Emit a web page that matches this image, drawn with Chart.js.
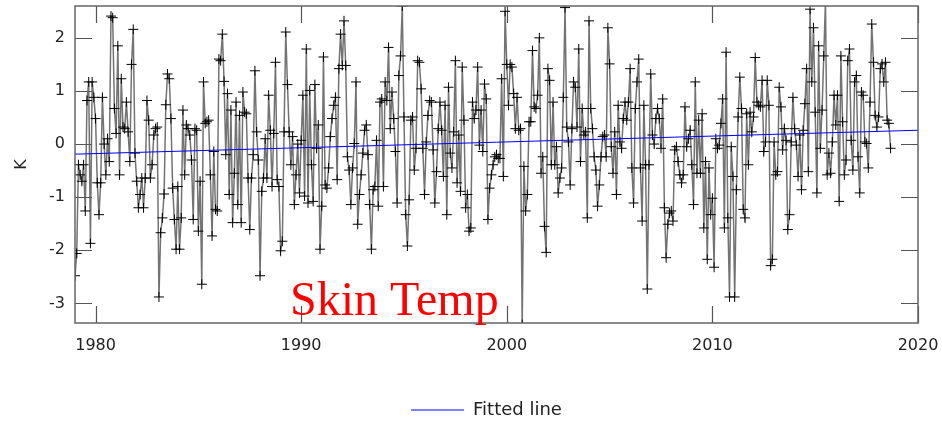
<!DOCTYPE html>
<html>
<head>
<meta charset="utf-8">
<script src="https://cdn.jsdelivr.net/npm/chart.js@4/dist/chart.umd.min.js"></script>
<style>
  html, body { margin: 0; padding: 0; background: #fff; }
  #wrap { width: 942px; height: 426px; }
</style>
</head>
<body>
<div id="wrap"><canvas id="chart" width="942" height="426"></canvas></div>
<script>
// monthly skin temperature anomaly (K), starting January 1979
const startYear = 1979;
const skinTemp = [
  -2.48, -2.06, -0.39, -0.58, -0.7, -0.39, -1.26, 0.82, 1.17, -1.87, 1.17, 0.88, 0.48, -0.73, -1.33, -0.73, 0.88, 0, -0.58, 0.1, -0.33, 2.41, 2.38, 0.67, 0.2, 1.85, -0.58, 1.23, 0.32, 0.29, 0.79, 0.23, -0.33, 1.5, 2.16, -0.17, -0.7, -1.2, -0.95, -0.64, -1.2, -0.64, 0.82, 0.45, -0.64, -0.39, 0.17, 0.29, 0.32,
  -2.88, -1.67, -1.39, -0.94, 0.74, 1.32, 1.23, 0.48, -0.83, -1.42, -1.98, -0.8, -1.98, -1.39, 0.64, -0.58, 0.36, 0.29, 0.17, -0.3, -1.42, 0.29, 0.26, -1.64, -0.7, -2.64, 1.17, 0.39, 0.42, 0.45, -0.58, -1.73, -0.14, -1.23, -1.26, 1.6, 1.57, 2.07, 1.18, -0.2, 0.95, -0.95, 0.64, -1.48, -0.55, 0.79, -1.14, 0.54, -1.48, 0.98,
  0.6, 0.57, -0.64, -1.61, -0.64, -0.2, 1.38, 0.23, -0.3, -2.48, -0.89, -0.64, 0.1, -0.64, 0.92, 0.26, -0.8, 0.2, 1.54, -0.67, -0.8, -2.01, -1.83, 0.23, 2.11, 1.12, 0.23, -0.39, 0.14, -1.14, -0.58, 0.0, -0.92, 0.07, 0.92, -0.98, 1.79, -1.11, 1.01, -0.39, -1.08, 1.12, -0.08, 0.36, -1.98, -1.17, 1.64, -0.77, -0.83,
  -0.45, 0.14, 0.48, 0.73, 0.88, -0.67, 1.42, 2.07, 1.48, 2.32, 1.48, -0.24, -0.49, -1.14, -0.45, 0.01, 1.17, -1.51, -0.95, -0.58, -0.17, 0.26, 0.36, -0.2, -1.14, -1.98, -0.86, -0.8, 0.07, -1.17, 0.79, 0.85, -0.8, 1.17, 0.82, 1.82, 0.29, 0.98, 0.48, -0.14, -1.11, 1.29, 1.66, 2.6, 0.51, -1.33, -1.92, -1.05, 0.45,
  0.51, -0.49, -0.08, 1.57, 1.54, 1.04, -0.08, -0.95, 0.04, 0.54, 0.82, 0.79, -0.11, -1.11, -0.52, 0.29, 0.79, 0.26, -0.61, 0.73, -1.33, 1.07, -0.17, -0.45, 0.23, 1.57, -0.73, 0.17, -0.89, 1.45, 0.45, -1.2, -0.95, -1.64, -1.58, 0.79, 0.48, 0.64, 1.45, -0.02, 0.64, -0.14, 1.13, 0.85, -1.42, -0.83, -0.58, -0.39, -0.24,
  -0.2, -0.27, -0.27, 1.23, -0.61, 2.5, 1.5, 0.73, 1.5, 1.45, 0.95, 0.29, 0.88, 0.26, 0.29, -3.4, -0.42, -1.26, -0.95, 0.42, 0.42, 1.76, 0.7, 0.67, 0.92, 2.0, -0.55, -0.24, -1.55, -2.04, 1.42, 1.2, -0.39, 0.79, -0.39, -0.05, -0.92, -0.64, -0.45, 0.88, 2.57, 0.32, 0.04, -0.77, 0.29, 1.17, 1.07, 0.32, 1.79, -0.33,
  0.67, 0.17, 0.23, -1.39, 2.32, 0.67, 0.29, -0.24, -0.49, -1.17, -0.77, -0.24, 0.14, 0.17, -0.24, 2.19, 1.51, -0.05, -0.55, 0.23, -0.95, 0.73, 0.04, -0.08, 0.48, 0.79, 0.45, 0.79, 1.42, -0.45, -1.11, 0.67, 1.17, 1.6, -0.45, -1.45, 0.73, -0.39, -2.73, -0.39, 1.32, 0.17, 0.0, 0.48, 0.67, 0.48, -0.08, 0.85, -1.2,
  -2.14, -1.51, -1.3, -1.26, -1.45, -0.11, -0.05, -0.33, -0.58, -0.73, -0.58, 0.7, -0.05, 0.1, 0.26, -0.39, -1.14, 1.17, -0.55, 0.45, -0.55, 0.57, -1.58, -0.33, -2.17, -0.45, -1.33, -1.02, -2.32, 0.1, -0.08, -0.02, 0.39, 0.85, -1.58, 1.73, -1.39, -2.88, -0.05, -0.61, -2.88, -0.86, 0.51, 1.26, 0.67, -1.23, -1.39, 0.57, -0.39,
  0.6, 0.23, 0.51, 1.63, 0.79, 0.73, 0.7, 1.2, -0.14, 0.04, 1.2, 0.73, -2.29, -2.17, 0.04, -0.58, -0.52, 1.07, 0.7, -0.11, 0.29, 0.07, -1.61, -1.33, 0.04, 0.88, 0.29, -0.02, -0.61, 0.17, -0.86, 0.26, 0.76, 1.42, -0.52, 2.54, 1.17, 2.19, 0.6, -0.92, 1.85, -0.08, 0.64, 1.66, 2.7, -0.58, -0.17, -0.55, 0.04, 0.92,
  0.36, 0.92, -1.08, 1.66, 0.42, -0.58, -0.3, 1.57, 1.79, 0.07, -0.49, 1.17, 1.29, -0.24, -0.92, 0.98, 0.92, 0.04, 0.01, -0.45, 0.79, 2.26, 1.54, 0.54, 0.32, 0.51, 1.42, 1.51, 1.17, 1.54, 0.45, 0.39, -0.08
];

// linear trend, end points
const fitYears  = [1979, 2020];
const fitValues = [-0.19, 0.26];

const xTicks = [1980, 1990, 2000, 2010, 2020];
const yTicks = [-3, -2, -1, 0, 1, 2];

const FONT = 'DejaVu Sans';
const INK = '#222';

// frame with inward ticks on all four sides
const framePlugin = {
  id: 'frame',
  beforeDatasetsDraw(chart) {
    const { ctx, chartArea: a, scales: { x, y } } = chart;
    const len = 17;
    ctx.save();
    ctx.strokeStyle = '#555';
    ctx.lineWidth = 1.2;
    ctx.beginPath();
    xTicks.forEach(v => {
      const px = Math.round(x.getPixelForValue(v)) + 0.5;
      ctx.moveTo(px, a.top); ctx.lineTo(px, a.top + len);
      ctx.moveTo(px, a.bottom); ctx.lineTo(px, a.bottom - len);
    });
    yTicks.forEach(v => {
      const py = Math.round(y.getPixelForValue(v)) + 0.5;
      ctx.moveTo(a.left, py); ctx.lineTo(a.left + len, py);
      ctx.moveTo(a.right, py); ctx.lineTo(a.right - len, py);
    });
    ctx.stroke();
    ctx.restore();
  },
  afterDraw(chart) {
    const { ctx, chartArea: a } = chart;
    ctx.save();
    ctx.strokeStyle = '#666';
    ctx.lineWidth = 1.5;
    ctx.strokeRect(a.left, a.top, a.right - a.left, a.bottom - a.top);
    // series name inside the plot
    ctx.fillStyle = '#ff0000';
    ctx.font = '48px "Liberation Serif"';
    ctx.textBaseline = 'alphabetic';
    ctx.fillText('Skin Temp', 290, 315);
    ctx.restore();
  }
};

new Chart(document.getElementById('chart'), {
  type: 'line',
  data: {
    datasets: [{
      label: 'Skin Temp',
      data: skinTemp.map((v, i) => ({ x: startYear + i / 12, y: v })),
      borderColor: 'rgba(90,90,90,0.85)',
      borderWidth: 1.5,
      pointStyle: 'cross',
      pointRadius: 5,
      pointBorderColor: '#000',
      pointBorderWidth: 1,
      tension: 0,
      order: 1,
    }, {
      label: 'Fitted line',
      data: fitYears.map((yr, i) => ({ x: yr, y: fitValues[i] })),
      borderColor: '#0000ff',
      borderWidth: 1,
      pointRadius: 0,
      pointStyle: 'line',
      order: 0,
    }]
  },
  options: {
    responsive: false,
    animation: false,
    devicePixelRatio: 1,
    layout: { padding: { top: 0, right: 0, left: 31, bottom: -3 } },
    plugins: {
      tooltip: { enabled: false },
      legend: {
        position: 'bottom',
        labels: {
          usePointStyle: true,
          pointStyleWidth: 53,
          padding: 6,
          color: INK,
          font: { family: FONT, size: 18 },
          filter: item => item.text === 'Fitted line',
        }
      }
    },
    scales: {
      x: {
        type: 'linear',
        min: 1979, max: 2020,
        afterBuildTicks: s => { s.ticks = xTicks.map(v => ({ value: v })); },
        afterFit: s => { s.height = 72; s.paddingLeft = 0; s.paddingRight = 24; },
        grid: { display: false, drawTicks: false },
        border: { display: false },
        ticks: { padding: 13, color: INK, font: { family: FONT, size: 16 }, maxRotation: 0, autoSkip: false, callback: v => String(v) }
      },
      y: {
        min: -3.37, max: 2.6,
        afterBuildTicks: s => { s.ticks = yTicks.map(v => ({ value: v })); },
        afterFit: s => { s.width = 44; s.paddingTop = 3; s.paddingBottom = 0; },
        grid: { display: false, drawTicks: false },
        border: { display: false },
        title: { display: true, text: 'K', color: INK, font: { family: FONT, size: 16 }, padding: { top: -18.6, bottom: 0 } },
        ticks: { padding: 10, color: INK, font: { family: FONT, size: 16 }, autoSkip: false, callback: v => String(v) }
      }
    }
  },
  plugins: [framePlugin]
});
</script>
</body>
</html>
